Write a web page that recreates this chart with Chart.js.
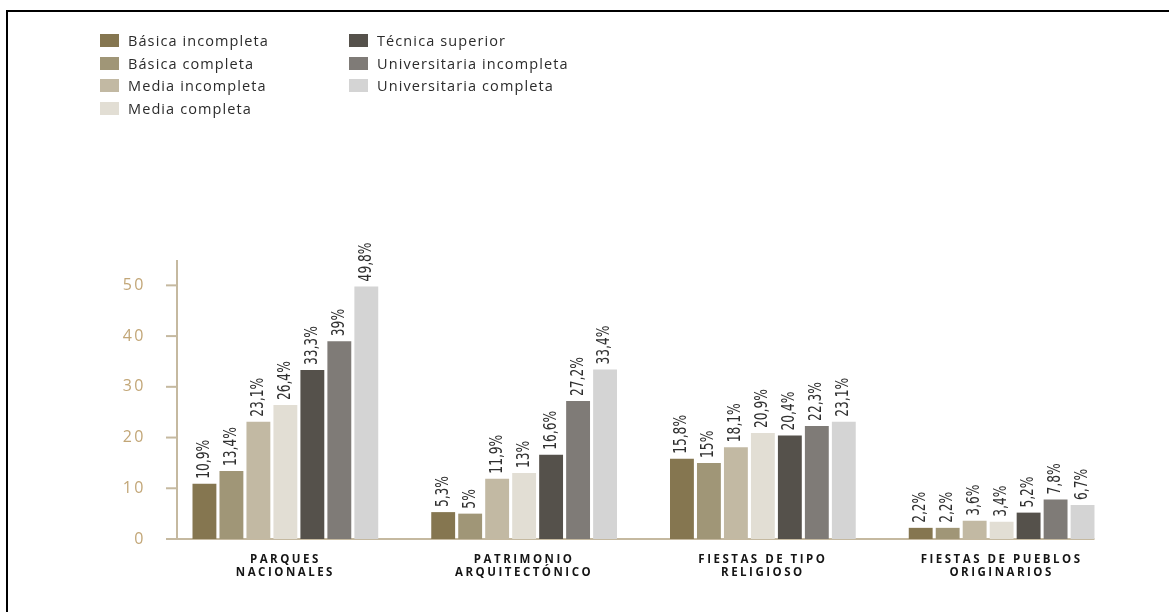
<!DOCTYPE html>
<html>
<head>
<meta charset="utf-8">
<script src="https://cdn.jsdelivr.net/npm/chart.js@4/dist/chart.umd.min.js"></script>
<style>
  html, body { margin: 0; padding: 0; background: #fff; }
  #wrap { position: relative; width: 1169px; height: 612px; overflow: hidden; }
  #frame { position: absolute; left: 6px; top: 10px; right: -4px; bottom: -4px;
           border-left: 2px solid #000; border-top: 2px solid #000; }
  #chart { position: absolute; left: 0; top: 0; }
  #legend { position: absolute; left: 100px; top: 34px; font-family: "Open Sans", sans-serif;
            font-size: 14.5px; letter-spacing: 1.1px; color: #2b2b2b; font-weight: 500; }
  .item { position: absolute; white-space: nowrap; height: 14px; line-height: 14px; }
  .item span.sw { position: absolute; left: 0; top: 0; width: 19px; height: 13px; }
  .item span.tx { position: absolute; left: 28px; top: 0px; }
</style>
</head>
<body>
<div id="wrap">
  <canvas id="chart" width="1169" height="612"></canvas>
  <div id="legend"></div>
  <div id="frame"></div>
</div>
<script>
// categorias (eje x)
const categories = [
  ['PARQUES', 'NACIONALES'],
  ['PATRIMONIO', 'ARQUITECTÓNICO'],
  ['FIESTAS DE TIPO', 'RELIGIOSO'],
  ['FIESTAS DE PUEBLOS', 'ORIGINARIOS']
];

// nivel educacional (series)
const seriesNames = [
  'Básica incompleta', 'Básica completa', 'Media incompleta', 'Media completa',
  'Técnica superior', 'Universitaria incompleta', 'Universitaria completa'
];
const seriesColors = ['#857650', '#a09677', '#c2b9a3', '#e2ded4', '#55514b', '#7f7b77', '#d4d4d4'];

const basicaIncompleta       = [10.9, 5.3, 15.8, 2.2];
const basicaCompleta         = [13.4, 5, 15, 2.2];
const mediaIncompleta        = [23.1, 11.9, 18.1, 3.6];
const mediaCompleta          = [26.4, 13, 20.9, 3.4];
const tecnicaSuperior        = [33.3, 16.6, 20.4, 5.2];
const universitariaIncompleta = [39, 27.2, 22.3, 7.8];
const universitariaCompleta  = [49.8, 33.4, 23.1, 6.7];

const seriesValues = [basicaIncompleta, basicaCompleta, mediaIncompleta, mediaCompleta,
  tecnicaSuperior, universitariaIncompleta, universitariaCompleta];

const yTicks = [0, 10, 20, 30, 40, 50];
const axisColor = '#c5b9a0';

// leyenda en dos columnas
var legend = document.getElementById('legend');
seriesNames.forEach(function (name, i) {
  var col = i < 4 ? 0 : 1;
  var row = i < 4 ? i : i - 4;
  var el = document.createElement('div');
  el.className = 'item';
  el.style.left = (col * 249) + 'px';
  el.style.top = (row * 22.5) + 'px';
  el.innerHTML = '<span class="sw" style="background:' + seriesColors[i] + '"></span><span class="tx">' + name + '</span>';
  legend.appendChild(el);
});

const axisPlugin = {
  id: 'axisPlugin',
  beforeDraw: function (chart) {
    chart.ctx.letterSpacing = '2.5px';
  },
  beforeDatasetsDraw: function (chart) {
    const ctx = chart.ctx;
    ctx.letterSpacing = '0px';
    const area = chart.chartArea;
    const y = chart.scales.y;
    ctx.save();
    ctx.strokeStyle = axisColor;
    ctx.lineWidth = 2;
    // eje vertical
    ctx.beginPath();
    ctx.moveTo(area.left + 11, area.top);
    ctx.lineTo(area.left + 11, area.bottom);
    ctx.stroke();
    // marcas
    yTicks.forEach(function (v) {
      const py = y.getPixelForValue(v);
      ctx.beginPath();
      ctx.moveTo(area.left, py);
      ctx.lineTo(area.left + 11, py);
      ctx.stroke();
    });
    // linea base hasta la ultima barra
    const last = chart.getDatasetMeta(seriesValues.length - 1).data;
    const lastBar = last[last.length - 1];
    ctx.beginPath();
    ctx.moveTo(area.left, y.getPixelForValue(0));
    ctx.lineTo(lastBar.x + lastBar.width / 2, y.getPixelForValue(0));
    ctx.stroke();
    ctx.restore();
  },
  afterDatasetsDraw: function (chart) {
    const ctx = chart.ctx;
    ctx.save();
    ctx.letterSpacing = '0px';
    ctx.fillStyle = '#2e2e2e';
    ctx.font = '17px "DejaVu Sans Condensed", "DejaVu Sans", sans-serif';
    ctx.textAlign = 'left';
    ctx.textBaseline = 'middle';
    chart.data.datasets.forEach(function (ds, i) {
      chart.getDatasetMeta(i).data.forEach(function (bar, j) {
        const txt = String(ds.data[j]).replace('.', ',') + '%';
        ctx.save();
        ctx.translate(bar.x, bar.y - 5);
        ctx.rotate(-Math.PI / 2);
        ctx.scale(0.8, 1);
        ctx.fillText(txt, 0, 0);
        ctx.restore();
      });
    });
    ctx.restore();
  }
};

new Chart(document.getElementById('chart'), {
  type: 'bar',
  data: {
    labels: categories,
    datasets: seriesValues.map(function (vals, i) {
      return {
        label: seriesNames[i],
        data: vals,
        backgroundColor: seriesColors[i],
        borderWidth: 0,
        categoryPercentage: 0.791,
        barPercentage: 0.885
      };
    })
  },
  options: {
    responsive: false,
    animation: false,
    layout: { padding: { top: 260, right: 48, bottom: 0, left: 0 } },
    plugins: { legend: { display: false }, tooltip: { enabled: false } },
    scales: {
      x: {
        grid: { display: false },
        border: { display: false },
        ticks: {
          color: '#151515',
          padding: 6,
          maxRotation: 0,
          font: { family: '"Open Sans", sans-serif', size: 11.5, weight: 'bold', lineHeight: 1.15 }
        },
        afterFit: function (scale) { scale.height = 73; }
      },
      y: {
        min: 0,
        max: 55,
        grid: { display: false },
        border: { display: false },
        afterBuildTicks: function (scale) {
          scale.ticks = yTicks.map(function (v) { return { value: v }; });
        },
        ticks: {
          color: '#c2a677',
          padding: 12,
          font: { family: '"Open Sans", sans-serif', size: 16 }
        },
        afterFit: function (scale) { scale.width = 166; }
      }
    }
  },
  plugins: [axisPlugin]
});
</script>
</body>
</html>
